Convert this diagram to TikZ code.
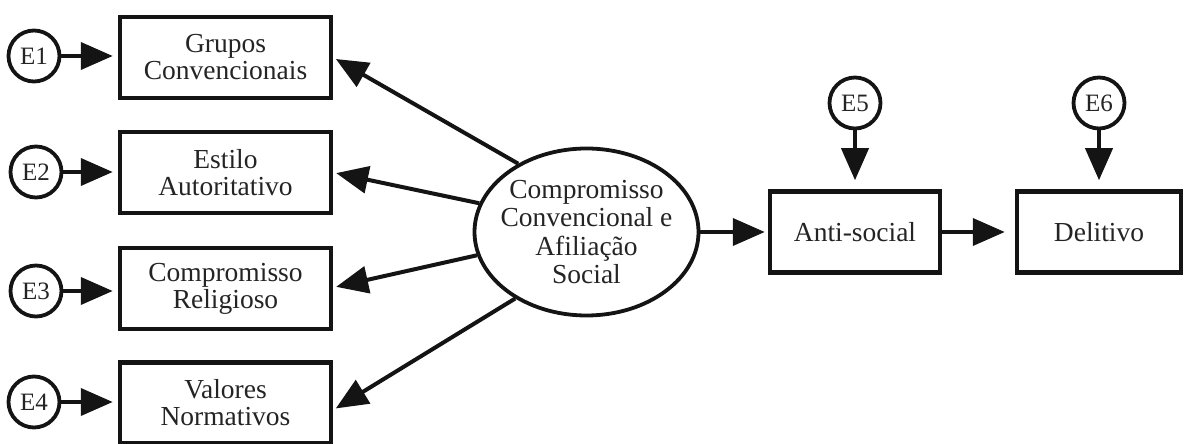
\documentclass[tikz,border=0pt]{standalone}
\usepackage{fontspec}
\setmainfont{Liberation Serif}
\usetikzlibrary{arrows.meta,shapes.geometric}
\definecolor{ink}{HTML}{141414}
\definecolor{txt}{HTML}{242424}
\tikzset{
  varbox/.style={draw=ink, line width=4.5pt, rectangle, minimum width=211pt,
    minimum height=81pt, align=center, text=txt, inner sep=2pt,
    font=\fontsize{27.5}{27}\selectfont},
  errc/.style={draw=ink, line width=3.8pt, circle, minimum size=51pt,
    inner sep=0pt, text=txt, font=\fontsize{25}{26}\selectfont},
  latent/.style={draw=ink, line width=3.8pt, ellipse, minimum width=224pt,
    minimum height=167pt, inner xsep=-7pt, inner ysep=0pt, align=center,
    text=txt, font=\fontsize{27.5}{28.3}\selectfont},
  path arrow/.style={draw=ink, line width=4pt,
    -{Triangle[length=32pt,width=27pt]}},
}
\begin{document}
\begin{tikzpicture}[x=1pt,y=1pt]
  \useasboundingbox (0,0) rectangle (1185,444);

  % observed indicators
  \node[varbox] (b1) at (225.5,386.5) {Grupos\\Convencionais};
  \node[varbox] (b2) at (225.5,271.5) {Estilo\\Autoritativo};
  \node[varbox] (b3) at (225.5,155.5) {Compromisso\\Religioso};
  \node[varbox] (b4) at (225.5,41) {Valores\\Normativos};

  % error terms of the indicators
  \node[errc] (e1) at (34,388) {E1};
  \node[errc] (e2) at (36,272) {E2};
  \node[errc] (e3) at (36,153) {E3};
  \node[errc] (e4) at (34,42) {E4};

  % latent factor
  \node[latent] (lat) at (586.5,212) {Compromisso\\Convencional e\\Afiliação\\Social};

  % outcome variables
  \node[varbox, minimum width=170pt] (anti) at (855,212) {Anti-social};
  \node[varbox, minimum width=164pt] (del) at (1099,212) {Delitivo};
  \node[errc] (e5) at (855,341) {E5};
  \node[errc] (e6) at (1099,341) {E6};

  % error paths
  \foreach \e/\b in {e1/b1,e2/b2,e3/b3,e4/b4}
    \draw[path arrow, shorten >=5pt] (\e) -- (\b.west |- \e);
  \draw[path arrow, shorten >=9pt] (e5) -- (anti.north);
  \draw[path arrow, shorten >=9pt] (e6) -- (del.north);

  % factor loadings
  \draw[path arrow, shorten >=3pt] (lat.135) -- (b1.east);
  \draw[path arrow, shorten >=3pt] (lat.165.5) -- (b2.east);
  \draw[path arrow, shorten >=3pt] (lat.192.5) -- ([yshift=1pt]b3.east);
  \draw[path arrow, shorten >=3pt] (lat.223) -- ([yshift=-7pt]b4.east);

  % structural paths
  \draw[path arrow, shorten >=3pt] (lat.east) -- (anti.west);
  \draw[path arrow, shorten >=10pt] (anti.east) -- (del.west);
\end{tikzpicture}
\end{document}
